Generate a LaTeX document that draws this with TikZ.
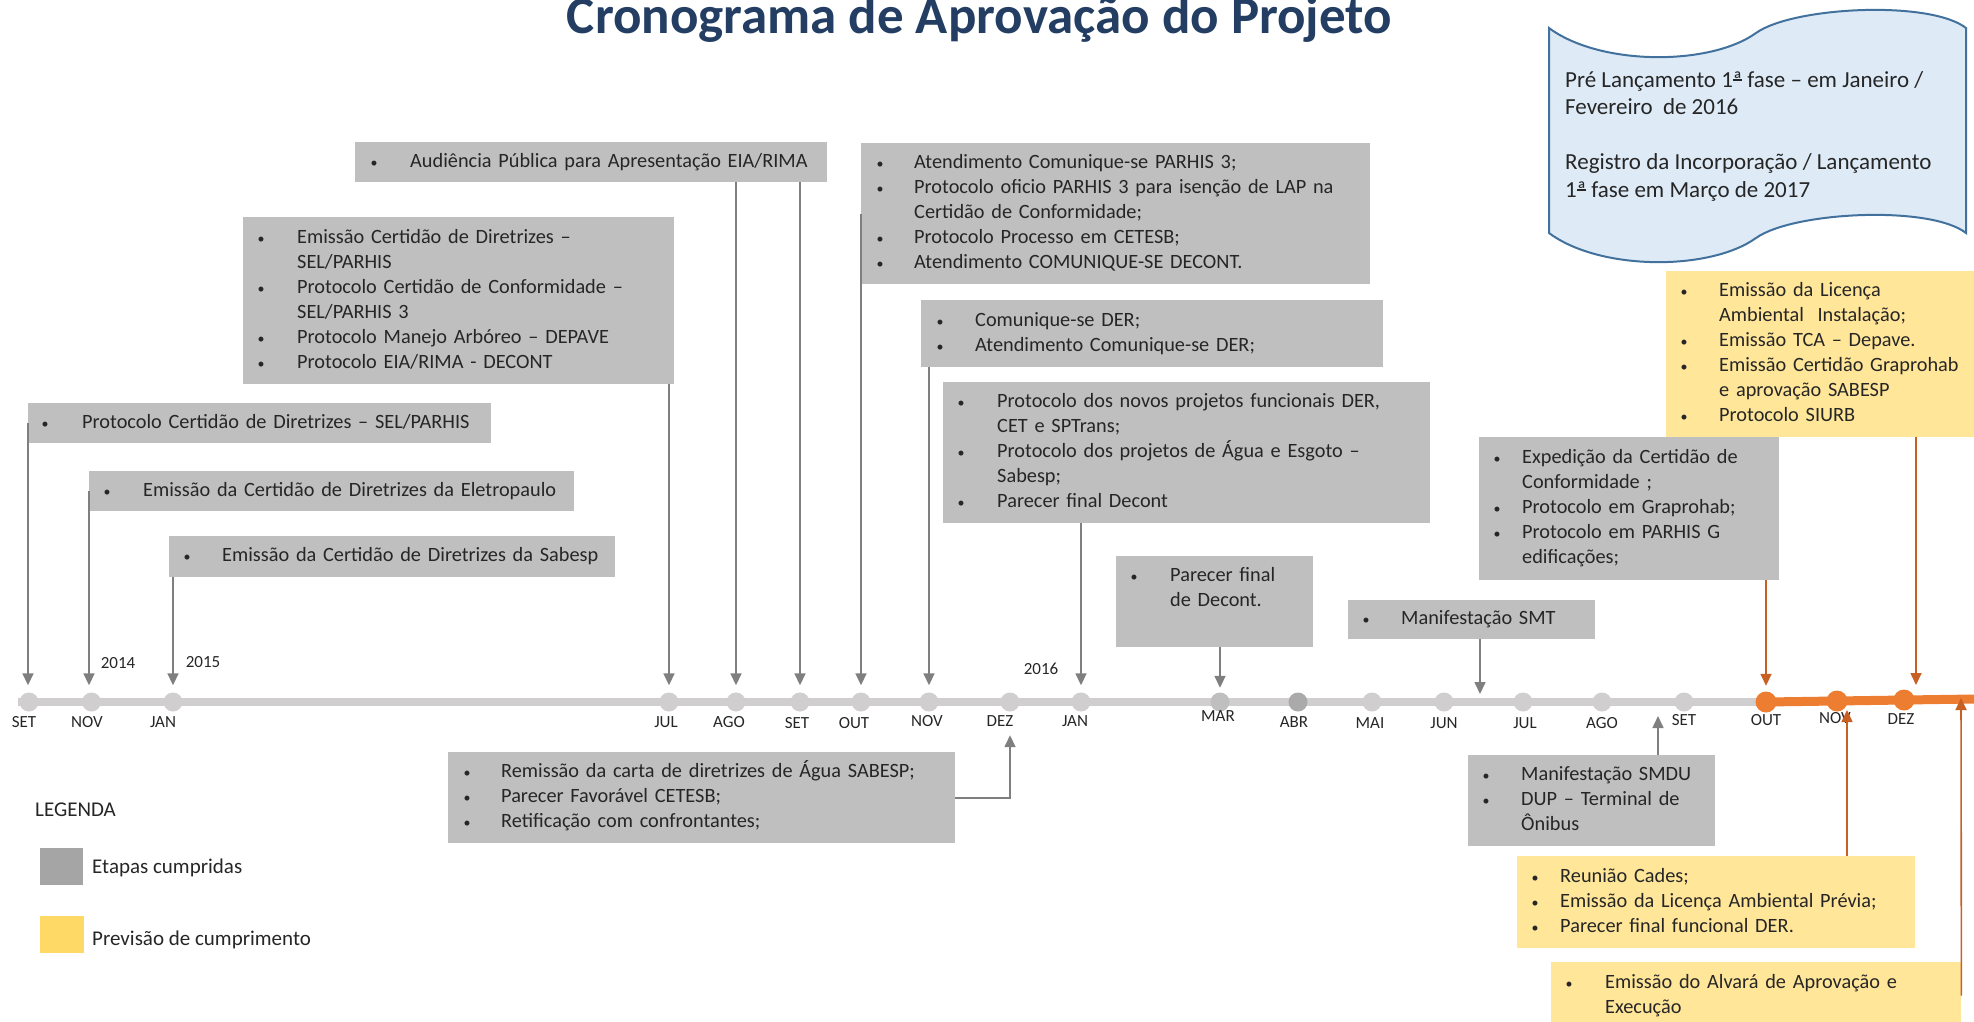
\documentclass[tikz,border=0pt]{standalone}
\usepackage{fontspec}
\setmainfont{Carlito}
\usetikzlibrary{arrows.meta}
\definecolor{boxgray}{RGB}{191,191,191}
\definecolor{boxyellow}{RGB}{255,230,153}
\definecolor{leggray}{RGB}{165,165,165}
\definecolor{legyellow}{RGB}{255,217,102}
\definecolor{linegray}{RGB}{208,206,206}
\definecolor{dotgray}{RGB}{208,206,206}
\definecolor{dotmid}{RGB}{191,191,191}
\definecolor{dotdark}{RGB}{170,170,170}
\definecolor{arrgray}{RGB}{127,127,127}
\definecolor{orangeln}{RGB}{237,125,49}
\definecolor{arrorange}{RGB}{200,95,35}
\definecolor{titleblue}{RGB}{35,62,98}
\definecolor{scrollfill}{RGB}{222,235,247}
\definecolor{scrollline}{RGB}{65,113,156}
\definecolor{txt}{RGB}{38,38,38}
\newcommand\boxfont{\fontsize{20.3}{25}\selectfont}
\newcommand\monfont{\fontsize{17}{20}\selectfont}
\newcommand\scrfont{\fontsize{23}{27.5}\selectfont}
\newcommand\ttlfont{\fontsize{53}{60}\selectfont\bfseries}
\newcommand\legfont{\fontsize{21}{25}\selectfont}
\newcommand\ordA{\ooalign{ª\cr\hidewidth\rule[0.3em]{0.36em}{0.055em}\hidewidth\cr}}
\newlength\bx
\newlength\tx
\newcommand\bitem[1]{\makebox[\tx][l]{\hspace*{\bx}\makebox[0pt]{\fontsize{14}{14}\selectfont •}}#1}
\newcommand\citem[1]{\hspace*{\tx}#1}
% name, style, left, top, right, bottom, bullet centre, text left, rows
\newcommand\tlbox[9]{%
  \pgfmathsetmacro\tlW{#5-#3}%
  \pgfmathsetmacro\tlH{#6-#4}%
  \node[#2, anchor=north west, inner sep=0pt, align=left,
        minimum width=\tlW pt, minimum height=\tlH pt, text width=\tlW pt]
        (#1) at (#3,#4)
        {\setlength\bx{\dimexpr #7pt-#3pt\relax}\setlength\tx{\dimexpr #8pt-#3pt\relax}%
         \begin{tabular}{@{}l@{}}#9\end{tabular}};}
\begin{document}
\begin{tikzpicture}[x=1pt,y=-1pt,
  gbox/.style={fill=boxgray, text=txt, font=\boxfont},
  ybox/.style={fill=boxyellow, text=txt, font=\boxfont},
  gdot/.style={circle, fill=dotgray, inner sep=0pt, minimum size=19pt},
  odot/.style={circle, fill=orangeln, inner sep=0pt, minimum size=21pt},
  mon/.style={font=\monfont, text=txt, inner sep=0pt},
  garr/.style={draw=arrgray, line width=1.6pt, -{Triangle[length=12pt,width=11pt]}},
  oarr/.style={draw=arrorange, line width=1.6pt, -{Triangle[length=12pt,width=11pt]}}]
\useasboundingbox (0,0) rectangle (1974,1021);
\clip (0,0) rectangle (1974,1021);

% title
\node[font=\ttlfont, text=titleblue, anchor=base, inner sep=0pt] (title) at (979.5,33) {Cronograma de Aprovação do Projeto};

% timeline
\draw[line width=8pt, draw=linegray] (18,702) -- (1766,702);
\draw[line width=9pt, draw=orangeln] (1766,702) -- (1974,699);

\node[gdot] (d1) at (29,702) {};
\node[gdot] (d2) at (91.5,702) {};
\node[gdot] (d3) at (173,702) {};
\node[gdot] (d4) at (669,702) {};
\node[gdot] (d5) at (736,702) {};
\node[gdot] (d6) at (800,702) {};
\node[gdot] (d7) at (861,702) {};
\node[gdot] (d8) at (929,702) {};
\node[gdot] (d9) at (1010,702) {};
\node[gdot] (d10) at (1081,702) {};
\node[gdot, fill=dotmid] (d11) at (1220,702) {};
\node[gdot, fill=dotdark] (d12) at (1298,702) {};
\node[gdot] (d13) at (1372,702) {};
\node[gdot] (d14) at (1444,702) {};
\node[gdot] (d15) at (1523,702) {};
\node[gdot] (d16) at (1602,702) {};
\node[gdot] (d17) at (1684,702) {};
\node[odot] (d18) at (1766,702) {};
\node[odot] (d19) at (1837,701) {};
\node[odot] (d20) at (1904,700) {};

% month labels
\node[mon] (l1) at (24,722) {SET};
\node[mon] (l2) at (87,722) {NOV};
\node[mon] (l3) at (163,722) {JAN};
\node[mon] (l4) at (666,722) {JUL};
\node[mon] (l5) at (729,722) {AGO};
\node[mon] (l6) at (797,723) {SET};
\node[mon] (l7) at (854,723) {OUT};
\node[mon] (l8) at (927,721) {NOV};
\node[mon] (l9) at (1000,721) {DEZ};
\node[mon] (l10) at (1075,721) {JAN};
\node[mon] (l11) at (1218,716) {MAR};
\node[mon] (l12) at (1294,722) {ABR};
\node[mon] (l13) at (1370,723) {MAI};
\node[mon] (l14) at (1444,723) {JUN};
\node[mon] (l15) at (1525,723) {JUL};
\node[mon] (l16) at (1602,723) {AGO};
\node[mon] (l17) at (1684,720) {SET};
\node[mon] (l18) at (1766,720) {OUT};
\node[mon] (l19) at (1835,718) {NOV};
\node[mon] (l20) at (1901,719) {DEZ};
\node[mon] (y1) at (118,663) {2014};
\node[mon] (y2) at (203,662) {2015};
\node[mon] (y3) at (1041,669) {2016};

% boxes
\tlbox{b1}{gbox}{28}{403}{491}{443}{45}{82}{\bitem{Protocolo Certidão de Diretrizes – SEL/PARHIS}}
\tlbox{b2}{gbox}{89}{471}{574}{511}{107}{143}{\bitem{Emissão da Certidão de Diretrizes da Eletropaulo}}
\tlbox{b3}{gbox}{169}{536}{615}{577}{187}{222}{\bitem{Emissão da Certidão de Diretrizes da Sabesp}}
\tlbox{b4}{gbox}{243}{217}{674}{384}{261}{297}{\bitem{Emissão Certidão de Diretrizes –}\\\citem{SEL/PARHIS}\\\bitem{Protocolo Certidão de Conformidade –}\\\citem{SEL/PARHIS 3}\\\bitem{Protocolo Manejo Arbóreo – DEPAVE}\\\bitem{Protocolo EIA/RIMA - DECONT}}
\tlbox{b5}{gbox}{355}{142}{827}{182}{374}{410}{\bitem{Audiência Pública para Apresentação EIA/RIMA}}
\tlbox{b6}{gbox}{861}{143}{1370}{284}{880}{914}{\bitem{Atendimento Comunique-se PARHIS 3;}\\\bitem{Protocolo oficio PARHIS 3 para isenção de LAP na}\\\citem{Certidão de Conformidade;}\\\bitem{Protocolo Processo em CETESB;}\\\bitem{Atendimento COMUNIQUE-SE DECONT.}}
\tlbox{b7}{gbox}{921}{300}{1383}{367}{940}{975}{\bitem{Comunique-se DER;}\\\bitem{Atendimento Comunique-se DER;}}
\tlbox{b8}{gbox}{943}{382}{1430}{523}{961}{997}{\bitem{Protocolo dos novos projetos funcionais DER,}\\\citem{CET e SPTrans;}\\\bitem{Protocolo dos projetos de Água e Esgoto –}\\\citem{Sabesp;}\\\bitem{Parecer final Decont}}
\tlbox{b9}{gbox}{1116}{556}{1313}{647}{1134}{1170}{\bitem{Parecer final}\\\citem{de Decont.}\\\citem{}}
\tlbox{b10}{gbox}{1348}{600}{1595}{639}{1366}{1401}{\bitem{Manifestação SMT}}
\tlbox{b11}{gbox}{1479}{437}{1779}{580}{1497}{1522}{\bitem{Expedição da Certidão de}\\\citem{Conformidade ;}\\\bitem{Protocolo em Graprohab;}\\\bitem{Protocolo em PARHIS G}\\\citem{edificações;}}
\tlbox{b12}{ybox}{1666}{271}{1990}{437}{1684}{1719}{\bitem{Emissão da Licença}\\\citem{Ambiental\ \ Instalação;}\\\bitem{Emissão TCA – Depave.}\\\bitem{Emissão Certidão Graprohab}\\\citem{e aprovação SABESP}\\\bitem{Protocolo SIURB}}
\tlbox{b13}{gbox}{1468}{755}{1715}{846}{1486}{1521}{\bitem{Manifestação SMDU}\\\bitem{DUP – Terminal de}\\\citem{Ônibus}}
\tlbox{b14}{ybox}{1517}{856}{1915}{948}{1535}{1560}{\bitem{Reunião Cades;}\\\bitem{Emissão da Licença Ambiental Prévia;}\\\bitem{Parecer final funcional DER.}}
\tlbox{b15}{ybox}{1551}{962}{1961}{1029}{1569}{1605}{\bitem{Emissão do Alvará de Aprovação e}\\\citem{Execução}}
\tlbox{b16}{gbox}{448}{752}{955}{843}{467}{501}{\bitem{Remissão da carta de diretrizes de Água SABESP;}\\\bitem{Parecer Favorável CETESB;}\\\bitem{Retificação com confrontantes;}}

% free ends on the timeline
\coordinate (tsmt) at (1480,702);
\coordinate (tlic) at (1916,702);
\coordinate (tsmdu) at (1658,702);
\coordinate (tcad) at (1847,702);
\coordinate (talv) at (1961,698);

% connectors
\draw[garr, shorten >=7pt] (b1.west) -- (b1.west |- d1.north);
\draw[garr, shorten >=7pt] (b2.west) -- (b2.west |- d2.north);
\draw[garr, shorten >=7pt] (d3 |- b3.south) -- (d3.north);
\draw[garr, shorten >=7pt] (d4 |- b4.south) -- (d4.north);
\draw[garr, shorten >=7pt] (d5 |- b5.south) -- (d5.north);
\draw[garr, shorten >=7pt] (d6 |- b5.south) -- (d6.north);
\draw[garr, shorten >=7pt] (b6.west) -- (b6.west |- d7.north);
\draw[garr, shorten >=7pt] (d8 |- b7.south) -- (d8.north);
\draw[garr, shorten >=7pt] (d10 |- b8.south) -- (d10.north);
\draw[garr, shorten >=4.5pt] (d11 |- b9.south) -- (d11.north);
\draw[garr, shorten >=8pt] (tsmt |- b10.south) -- (tsmt);
\draw[oarr, shorten >=5.5pt] (d18 |- b11.south) -- (d18.north);
\draw[oarr, shorten >=17pt] (tlic |- b12.south) -- (tlic);
\draw[garr, shorten >=14pt] (tsmdu |- b13.north) -- (tsmdu);
\draw[oarr, shorten >=8pt] (tcad |- b14.north) -- (tcad);
\draw[oarr] (b15.east) -- (talv);
\draw[garr, shorten >=23.5pt] (b16.east) -| (d9.south);

% scroll
\draw[fill=scrollfill, draw=scrollline, line width=2pt]
  (1549,28) .. controls (1600,66) and (1710,66) .. (1756,33)
  .. controls (1793,6.6) and (1930,0) .. (1966,28) -- (1966,233)
  .. controls (1930,205) and (1793,211.6) .. (1756,238)
  .. controls (1710,271) and (1600,271) .. (1549,233) -- cycle;
\node[anchor=north west, inner sep=0pt, font=\scrfont, text=txt, align=left] (scr) at (1565,68)
  {\begin{tabular}{@{}l@{}}Pré Lançamento 1\ordA{} fase – em Janeiro /\\ Fevereiro\ \ de 2016\\ \\ Registro da Incorporação / Lançamento\\ 1\ordA{} fase em Março de 2017\end{tabular}};

% legend
\node[font=\legfont, text=txt, anchor=base west, inner sep=0pt] (leg) at (35,816) {LEGENDA};
\node[fill=leggray, anchor=north west, inner sep=0pt, minimum width=43pt, minimum height=37pt] (lg1) at (40,848) {};
\node[font=\legfont, text=txt, anchor=base west, inner sep=0pt] (lt1) at (92,873) {Etapas cumpridas};
\node[fill=legyellow, anchor=north west, inner sep=0pt, minimum width=44pt, minimum height=37pt] (lg2) at (40,916) {};
\node[font=\legfont, text=txt, anchor=base west, inner sep=0pt] (lt2) at (92,945) {Previsão de cumprimento};
\end{tikzpicture}
\end{document}
